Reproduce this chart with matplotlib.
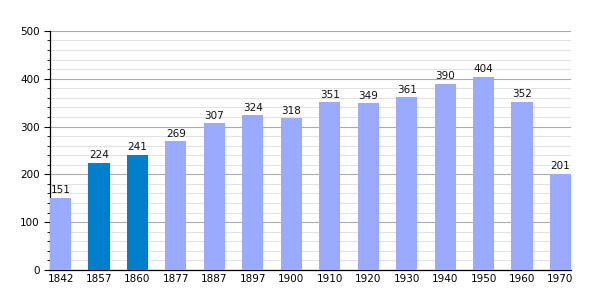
import numpy as np
import matplotlib
matplotlib.use("Agg")
import matplotlib.pyplot as plt
from matplotlib.ticker import MultipleLocator

years = ["1842", "1857", "1860", "1877", "1887", "1897", "1900",
         "1910", "1920", "1930", "1940", "1950", "1960", "1970"]
population = [151, 224, 241, 269, 307, 324, 318,
              351, 349, 361, 390, 404, 352, 201]
highlight = ["1857", "1860"]

light = "#99aaff"
dark = "#0080cc"
w = 0.55

fig = plt.figure(figsize=(6, 3), dpi=100)
ax = fig.add_axes([50 / 600, 0.1, 521 / 600, 0.797])

x = np.arange(len(years))
colors = [dark if y in highlight else light for y in years]
ax.bar(x, population, width=w, color=colors, zorder=3)

for xi, v in zip(x, population):
    ax.text(xi, v + 5, str(v), ha="center", va="bottom", fontsize=7.5,
            color="#111111", zorder=4)

ax.set_xlim(-w / 2, len(years) - 1 + w / 2)
ax.set_ylim(0, 500)
ax.set_xticks(x)
ax.set_xticklabels(years, fontsize=7.5)
ax.yaxis.set_major_locator(MultipleLocator(100))
ax.yaxis.set_minor_locator(MultipleLocator(20))
ax.tick_params(axis="y", labelsize=7.5, length=4, width=0.8)
ax.tick_params(axis="y", which="minor", length=2, width=0.6)
ax.tick_params(axis="x", length=0, pad=3)

ax.grid(axis="y", which="major", color="#aaaaaa", linewidth=0.8, zorder=0)
ax.grid(axis="y", which="minor", color="#e2e2e2", linewidth=0.8, zorder=0)

for s in ["top", "right"]:
    ax.spines[s].set_visible(False)
ax.spines["left"].set_linewidth(0.9)
ax.spines["bottom"].set_linewidth(0.9)

fig.savefig("out.png", dpi=100)
